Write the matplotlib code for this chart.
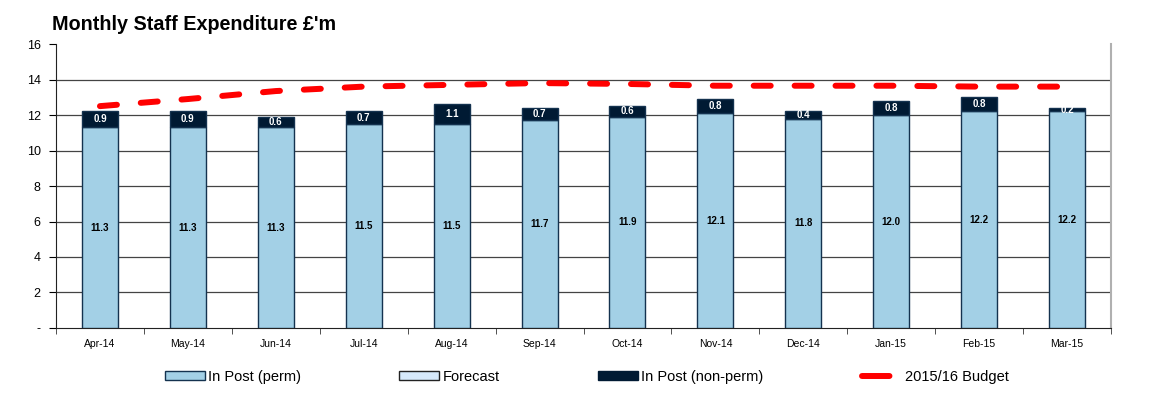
import matplotlib.pyplot as plt
import numpy as np
from matplotlib.lines import Line2D
from matplotlib.patches import Patch

plt.rcParams['font.family'] = ['Liberation Sans', 'DejaVu Sans']

# data
months = ['Apr-14', 'May-14', 'Jun-14', 'Jul-14', 'Aug-14', 'Sep-14',
          'Oct-14', 'Nov-14', 'Dec-14', 'Jan-15', 'Feb-15', 'Mar-15']
perm = [11.3, 11.3, 11.3, 11.5, 11.5, 11.7, 11.9, 12.1, 11.8, 12.0, 12.2, 12.2]
forecast = [0, 0, 0, 0, 0, 0, 0, 0, 0, 0, 0, 0]
non_perm = [0.9, 0.9, 0.6, 0.7, 1.1, 0.7, 0.6, 0.8, 0.4, 0.8, 0.8, 0.2]
budget = [12.5, 12.9, 13.35, 13.6, 13.7, 13.8, 13.75, 13.65, 13.65, 13.65, 13.6, 13.6]

c_perm = '#a3d0e6'
c_fcst = '#d6e9fb'
c_nonperm = '#001a33'
c_edge = '#14324f'

fig = plt.figure(figsize=(11.69, 3.98), dpi=100)
ax = fig.add_axes([0.0479, 0.1759, 0.9025, 0.7135])

x = np.arange(len(months))
w = 0.41

ax.bar(x, perm, w, color=c_perm, edgecolor=c_edge, linewidth=1, zorder=3)
ax.bar(x, forecast, w, bottom=perm, color=c_fcst, edgecolor=c_edge, linewidth=0, zorder=3)
bottom2 = np.array(perm) + np.array(forecast)
ax.bar(x, non_perm, w, bottom=bottom2, color=c_nonperm, edgecolor=c_edge, linewidth=1, zorder=3)

# value labels
for i in range(len(x)):
    ax.text(x[i], perm[i] / 2, f'{perm[i]:.1f}', ha='center', va='center',
            fontsize=7, fontweight='bold', color='black', zorder=5)
    ax.text(x[i], bottom2[i] + non_perm[i] / 2, f'{non_perm[i]:.1f}', ha='center',
            va='center', fontsize=7, fontweight='bold', color='white', zorder=5)

# budget line
ax.plot(x, budget, color='#ff0000', linewidth=4.3, dashes=(2.85, 4.0),
        dash_capstyle='round', zorder=4)

ax.set_xlim(-0.5, len(months) - 0.5)
ax.set_ylim(0, 16)
ax.set_yticks(range(0, 17, 2))
ax.set_yticklabels(['-'] + [str(v) for v in range(2, 17, 2)], fontsize=9)
ax.set_xticks(x)
ax.set_xticklabels(months, fontsize=7.5)
ax.set_xticks(np.arange(-0.5, len(months), 1), minor=True)
ax.tick_params(axis='x', which='major', length=0, pad=8)
ax.tick_params(axis='x', which='minor', length=4, direction='out', color='#333333')
ax.tick_params(axis='y', length=5, direction='out', pad=6)

for v in range(2, 16, 2):
    ax.axhline(v, color='#444444', linewidth=0.9, zorder=1)

ax.spines['top'].set_visible(False)
ax.spines['right'].set_color('#b0b0b0')
ax.spines['right'].set_linewidth(1.5)
ax.spines['left'].set_color('#222222')
ax.spines['bottom'].set_color('#222222')

fig.text(0.0445, 0.925, "Monthly Staff Expenditure £'m", fontsize=14.2,
         fontweight='bold', ha='left', va='baseline')

handles = [
    Patch(facecolor=c_perm, edgecolor=c_edge, linewidth=1),
    Patch(facecolor=c_fcst, edgecolor='#222222', linewidth=1),
    Patch(facecolor=c_nonperm, edgecolor=c_nonperm, linewidth=1),
    Line2D([], [], color='#ff0000', linewidth=4.3, dashes=(4.6, 10), dash_capstyle='round'),
]
labels = ['In Post (perm)', 'Forecast', 'In Post (non-perm)', '2015/16 Budget']
fig.legend(handles, labels, loc='center left', bbox_to_anchor=(0.136, 0.053), ncol=4,
           frameon=False, fontsize=10.5, handlelength=2.75, handleheight=0.55,
           handletextpad=0.2, columnspacing=6.75, borderaxespad=0)

fig.savefig('out.png', dpi=100)
